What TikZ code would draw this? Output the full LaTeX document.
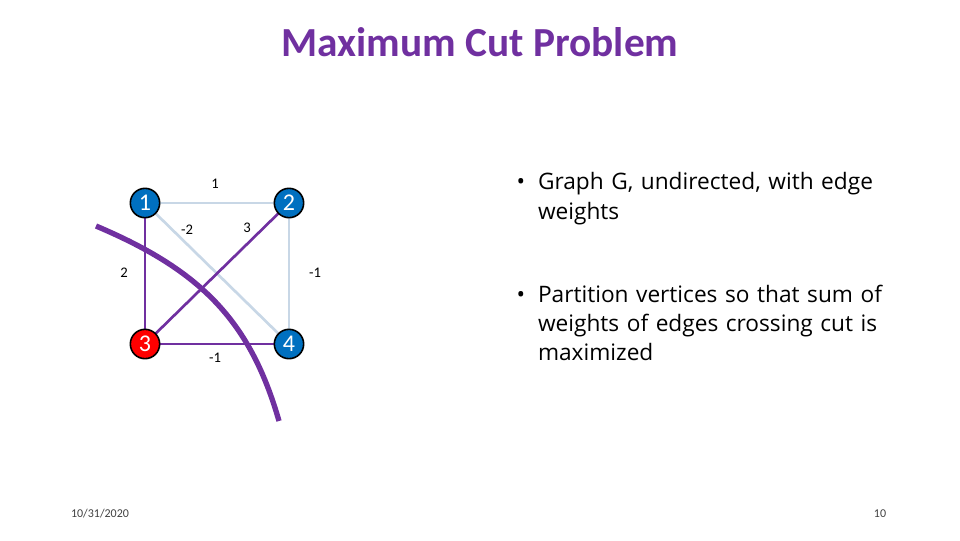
\documentclass[tikz,border=0pt]{standalone}
\usepackage{fontspec}
\setmainfont{Carlito}
\newfontfamily\bodyfont{Open Sans}
\begin{document}
\begin{tikzpicture}[x=0.75pt,y=-0.75pt,
  vtx/.style={circle,draw=black,line width=1.2pt,minimum size=22pt,inner sep=0pt,text=white,font=\fontsize{18}{18}\selectfont},
  light/.style={draw={rgb,255:red,200;green,215;blue,230},line width=2pt},
  cutedge/.style={draw={rgb,255:red,112;green,48;blue,160},line width=2pt},
  wlab/.style={font=\fontsize{11}{12}\selectfont},
  bul/.style={anchor=north west,align=left,font=\bodyfont\fontsize{17}{22}\selectfont,text width=320pt}]
\useasboundingbox (0,0) rectangle (960,540);
\definecolor{vblue}{RGB}{0,112,192}
\definecolor{tpurple}{RGB}{112,48,160}
\node[font=\bfseries\fontsize{31}{34}\selectfont,text=tpurple] (title) at (480,42) {Maximum Cut Problem};
\coordinate (n1) at (145,203);
\coordinate (n2) at (289,203);
\coordinate (n3) at (145,344);
\coordinate (n4) at (289,344);
\draw[light] (n1) -- (n2);
\draw[light] (n1) -- (n4);
\draw[light] (n2) -- (n4);
\draw[cutedge] (n1) -- (n3);
\draw[cutedge] (n2) -- (n3);
\draw[cutedge] (n3) -- (n4);
\coordinate (c1) at (96,226);
\coordinate (c2) at (279,421);
\draw[draw=tpurple,line width=4pt] (c1) .. controls (200,270) and (250,320) .. (c2);
\node[vtx,fill=vblue] (v1) at (n1) {1};
\node[vtx,fill=vblue] (v2) at (n2) {2};
\node[vtx,fill=red] (v3) at (n3) {3};
\node[vtx,fill=vblue] (v4) at (n4) {4};
\node[wlab] (w12) at (215,184) {1};
\node[wlab] (w14) at (187,230) {-2};
\node[wlab] (w23) at (247,228) {3};
\node[wlab] (w13) at (124,273) {2};
\node[wlab] (w24) at (315,273) {-1};
\node[wlab] (w34) at (215,358) {-1};
\node[bul] (b1) at (512,168) {\makebox[16pt][l]{•}Graph G, undirected, with edge\\\hspace*{16pt}weights};
\node[bul] (b2) at (512,280) {\makebox[16pt][l]{•}Partition vertices so that sum of\\\hspace*{16pt}weights of edges crossing cut is\\\hspace*{16pt}maximized};
\node[font=\fontsize{9}{10}\selectfont,text=darkgray] (date) at (100,514) {10/31/2020};
\node[font=\fontsize{9}{10}\selectfont,text=darkgray] (pg) at (880,514) {10};
\end{tikzpicture}
\end{document}
